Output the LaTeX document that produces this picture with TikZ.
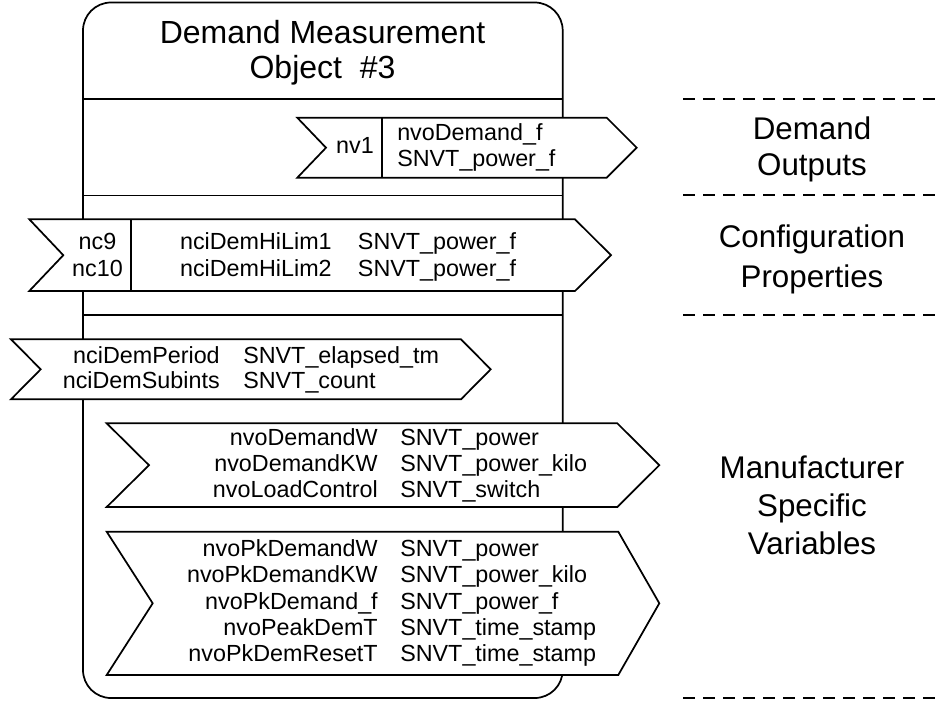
\documentclass[tikz,border=0pt]{standalone}
\usepackage{fontspec}
\setmainfont{Liberation Sans}
\begin{document}
\begin{tikzpicture}[x=0.75pt,y=-0.75pt,
  boxline/.style={line width=1.3pt, rounded corners=21pt},
  rule/.style={line width=1.3pt},
  port/.style={draw, line width=1.3pt, fill=white, line join=miter},
  txt/.style={inner sep=0pt, font=\fontsize{17.5}{20}\selectfont},
  ttl/.style={inner sep=0pt, font=\fontsize{24}{28}\selectfont},
  lbl/.style={inner sep=0pt, font=\fontsize{23.5}{27}\selectfont},
  sep/.style={line width=1.3pt, dash pattern=on 9pt off 6pt}]
\useasboundingbox (0,0) rectangle (942,700);
% object box
\draw[boxline] (83,2.5) rectangle (562.7,698);
\draw[rule] (83,99.3) -- (562.7,99.3);
\draw[rule] (83,195.5) -- (562.7,195.5);
\draw[rule] (83,315.3) -- (562.7,315.3);
% title
\node[ttl, anchor=base] (title1) at (322.5,43) {Demand Measurement};
\node[ttl, anchor=base] (title2) at (322.5,78.5) {Object\ \ \#3};
% nv1 port
\draw[port] (297.3,117.7) -- (606.7,117.7) -- (636.7,147.7) -- (606.7,177.7) -- (297.3,177.7) -- (326,147.7) -- cycle;
\draw[rule] (381.7,117.7) -- (381.7,177.7);
\node[txt, anchor=base] (nv1) at (355,153) {nv1};
\node[txt, anchor=base west] (nv1a) at (397,140) {nvoDemand\_f};
\node[txt, anchor=base west] (nv1b) at (397,166) {SNVT\_power\_f};
% nc9/nc10 port
\draw[port] (29.3,219.3) -- (575,219.3) -- (611,255.2) -- (575,291) -- (29.3,291) -- (63.3,255.2) -- cycle;
\draw[rule] (131,219.3) -- (131,291);
\node[txt, anchor=base] (nc9) at (97.5,249) {nc9};
\node[txt, anchor=base] (nc10) at (97.5,276) {nc10};
\node[txt, anchor=base east] (nc9n) at (332,249) {nciDemHiLim1};
\node[txt, anchor=base west] (nc9t) at (357.7,249) {SNVT\_power\_f};
\node[txt, anchor=base east] (nc10n) at (332,276) {nciDemHiLim2};
\node[txt, anchor=base west] (nc10t) at (357.7,276) {SNVT\_power\_f};
% period port
\draw[port] (11,339.3) -- (461,339.3) -- (490.7,369.3) -- (461,399.3) -- (11,399.3) -- (40.7,369.3) -- cycle;
\node[txt, anchor=base east] (pn1) at (220,363.3) {nciDemPeriod};
\node[txt, anchor=base west] (pt1) at (243,363.3) {SNVT\_elapsed\_tm};
\node[txt, anchor=base east] (pn2) at (220,388.5) {nciDemSubints};
\node[txt, anchor=base west] (pt2) at (243,388.5) {SNVT\_count};
% demand W port
\draw[port] (106.7,423.3) -- (617.3,423.3) -- (659.3,465.2) -- (617.3,507) -- (106.7,507) -- (149,465.2) -- cycle;
\node[txt, anchor=base east] (dn1) at (378,445.7) {nvoDemandW};
\node[txt, anchor=base west] (dt1) at (400,445.7) {SNVT\_power};
\node[txt, anchor=base east] (dn2) at (378,471.7) {nvoDemandKW};
\node[txt, anchor=base west] (dt2) at (400,471.7) {SNVT\_power\_kilo};
\node[txt, anchor=base east] (dn3) at (378,497.7) {nvoLoadControl};
\node[txt, anchor=base west] (dt3) at (400,497.7) {SNVT\_switch};
% peak port
\draw[port] (106.7,531.7) -- (618.3,531.7) -- (659.3,603.3) -- (618.3,675) -- (106.7,675) -- (152.7,603.3) -- cycle;
\node[txt, anchor=base east] (kn1) at (378,556) {nvoPkDemandW};
\node[txt, anchor=base west] (kt1) at (400,556) {SNVT\_power};
\node[txt, anchor=base east] (kn2) at (378,582.5) {nvoPkDemandKW};
\node[txt, anchor=base west] (kt2) at (400,582.5) {SNVT\_power\_kilo};
\node[txt, anchor=base east] (kn3) at (378,609) {nvoPkDemand\_f};
\node[txt, anchor=base west] (kt3) at (400,609) {SNVT\_power\_f};
\node[txt, anchor=base east] (kn4) at (378,635.3) {nvoPeakDemT};
\node[txt, anchor=base west] (kt4) at (400,635.3) {SNVT\_time\_stamp};
\node[txt, anchor=base east] (kn5) at (378,661.7) {nvoPkDemResetT};
\node[txt, anchor=base west] (kt5) at (400,661.7) {SNVT\_time\_stamp};
% right-hand groups
\draw[sep] (683,99) -- (942,99);
\draw[sep] (683,195) -- (942,195);
\draw[sep] (683,315) -- (942,315);
\draw[sep] (683,698) -- (942,698);
\node[lbl, anchor=base] (g1a) at (812,139) {Demand};
\node[lbl, anchor=base] (g1b) at (812,175) {Outputs};
\node[lbl, anchor=base] (g2a) at (812,247.7) {Configuration};
\node[lbl, anchor=base] (g2b) at (812,287.3) {Properties};
\node[lbl, anchor=base] (g3a) at (812,478) {Manufacturer};
\node[lbl, anchor=base] (g3b) at (812,516) {Specific};
\node[lbl, anchor=base] (g3c) at (812,554) {Variables};
\end{tikzpicture}
\end{document}
